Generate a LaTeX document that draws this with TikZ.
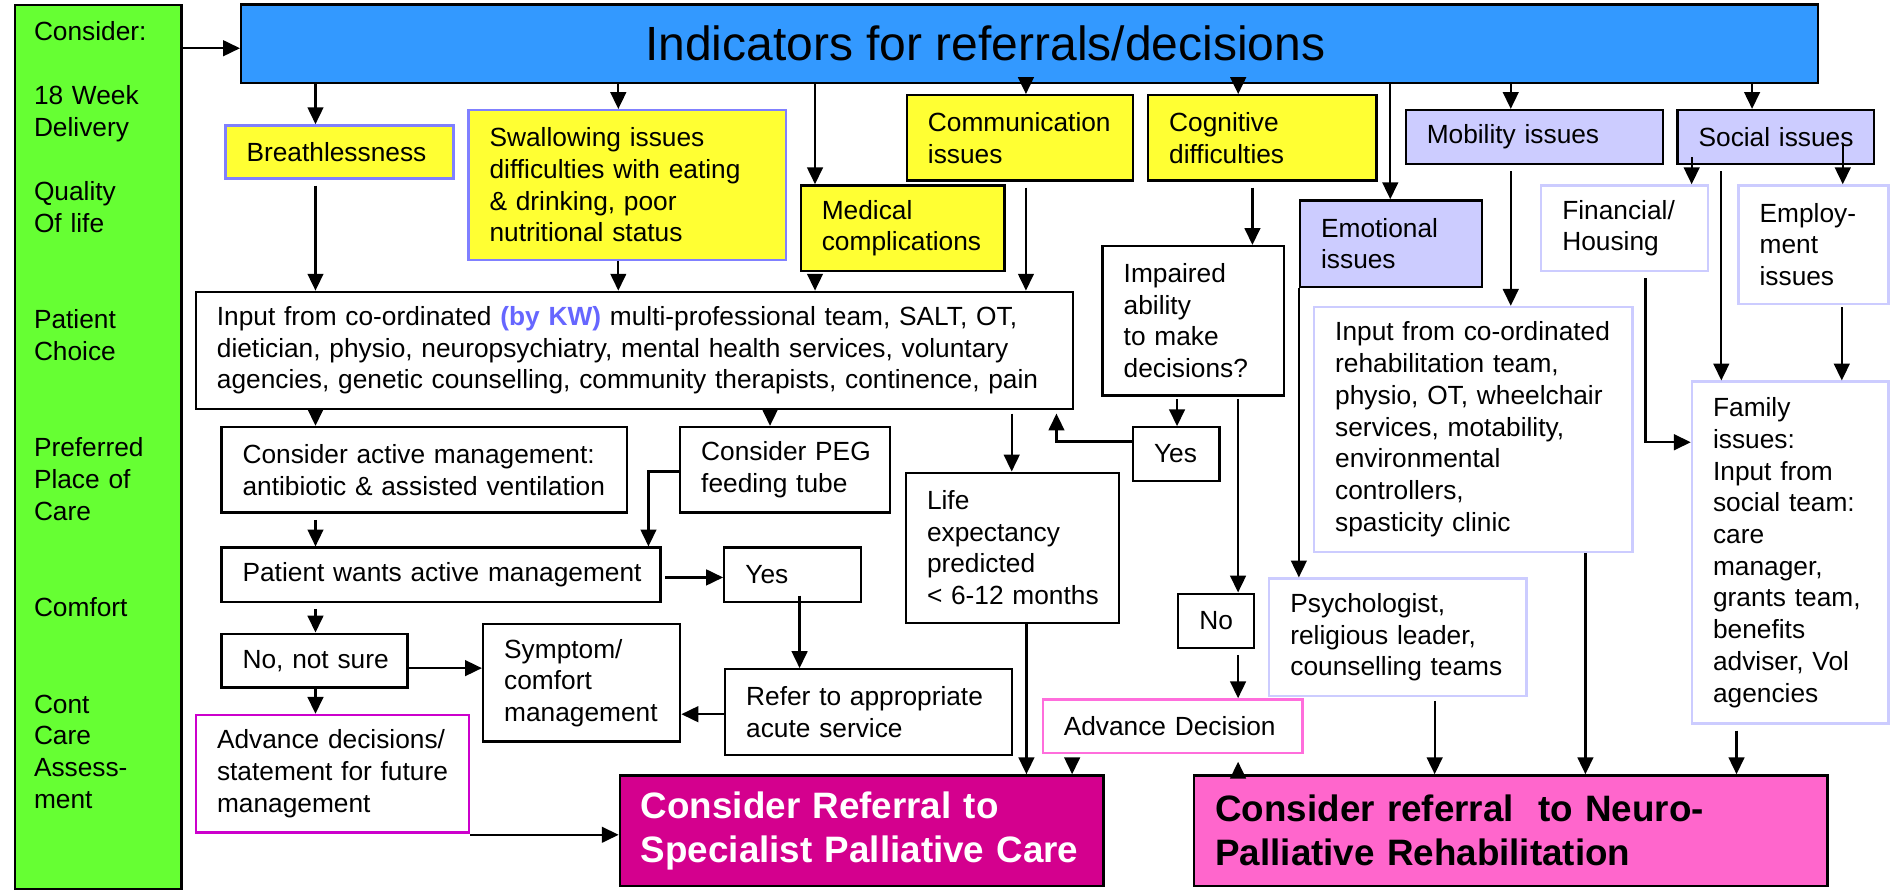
\documentclass[tikz,border=0pt]{standalone}
\usepackage{fontspec}
\setmainfont{Liberation Sans}
\usepackage{xcolor}
\usetikzlibrary{arrows.meta}

\definecolor{considergreen}{RGB}{102,255,51}
\definecolor{indblue}{RGB}{51,153,255}
\definecolor{issueyellow}{RGB}{255,255,51}
\definecolor{issuelilac}{RGB}{204,204,255}
\definecolor{edgeblue}{RGB}{128,128,255}
\definecolor{kwblue}{RGB}{102,102,255}
\definecolor{spcmagenta}{RGB}{212,0,142}
\definecolor{neuropink}{RGB}{255,102,204}
\definecolor{advmagenta}{RGB}{204,0,204}
\definecolor{advpink}{RGB}{255,110,220}

\begin{document}
\begin{tikzpicture}[
  x = 1pt, y = -1pt,
  > = {Triangle[length=14pt, width=13pt]},
  plainbox/.style = {rectangle, draw, line width=1.9pt, anchor=north west,
                     inner sep=0pt, align=left, fill=white,
                     font=\fontsize{21.8}{26.3}\selectfont,
                     execute at begin node={\leftskip=17.5pt}},
  yellowbox/.style = {plainbox, fill=issueyellow},
  lilacbox/.style  = {plainbox, fill=issuelilac},
  softbox/.style   = {plainbox, draw=issuelilac},
  sidetext/.style  = {anchor=base west, inner sep=0pt, align=left,
                      text width=120, font=\fontsize{21.8}{26.3}\selectfont},
  arr/.style = {->, line width=1.9pt},
  gap/.style = {shorten <=5pt}
]
\useasboundingbox (0,0) rectangle (1568,741);

% ───────── left column and header ─────────
\node[plainbox, fill=considergreen, text width=138, minimum height=733] (consider) at (11.5,3) {};
\node[sidetext] (considertxt) at (28,33.2)
  {Consider:\\[27pt]18 Week\\Delivery\\[27pt]Quality\\Of life\\[53.7pt]%
   Patient\\Choice\\[53.7pt]Preferred\\Place of\\Care\\[53.7pt]%
   Comfort\\[53.7pt]Cont\\Care\\Assess-\\ment};
\node[plainbox, fill=indblue, text width=1307.6, minimum height=65] (indicators) at (199,2.8) {};
\node[font=\fontsize{39.8}{47}\selectfont, anchor=base, inner sep=0pt] (title) at (817,50)
  {Indicators for referrals/decisions};

% ───────── indicator boxes ─────────
\node[yellowbox, draw=edgeblue, text width=189, minimum height=44] (breath) at (186,103) {Breathlessness};
\node[yellowbox, draw=edgeblue, text width=263, minimum height=124] (swallow) at (387.5,90.4)
  {Swallowing issues\\difficulties with eating\\\& drinking, poor\\nutritional status};
\node[yellowbox, text width=169, minimum height=71] (medical) at (663,152.8) {Medical\\complications};
\node[yellowbox, text width=187.7, minimum height=70.6] (comm) at (751,78) {Communication\\issues};
\node[yellowbox, text width=189.3, minimum height=70.6] (cognit) at (951,78) {Cognitive\\difficulties};
\node[lilacbox, text width=151, minimum height=71.6] (emot) at (1077,165.2) {Emotional\\issues};
\node[lilacbox, text width=213.4, minimum height=44.8] (mobil) at (1164.6,90.3) {Mobility issues};
\node[lilacbox, text width=163, minimum height=45] (social) at (1390,90.3) {Social issues};
\node[softbox, text width=138, minimum height=71] (fin) at (1277,152.8) {Financial/\\Housing};
\node[softbox, text width=124.4, minimum height=98.1] (employ) at (1440.6,152.8) {Employ-\\ment\\issues};

% ───────── left branch ─────────
\node[plainbox, text width=727.6, minimum height=97] (input) at (161.4,241)
  {Input from co-ordinated \textcolor{kwblue}{\bfseries(by KW)} multi-professional team, SALT, OT,\\
   dietician, physio, neuropsychiatry, mental health services, voluntary\\
   agencies, genetic counselling, community therapists, continence, pain};
\node[plainbox, text width=336.1, minimum height=71] (active) at (182.7,353.1)
  {Consider active management:\\antibiotic \& assisted ventilation};
\node[plainbox, text width=174.3, minimum height=71] (peg) at (563,353.1) {Consider PEG\\feeding tube};
\node[plainbox, text width=364.1, minimum height=44.9] (pwants) at (182.7,453.1) {Patient wants active management};
\node[plainbox, text width=113.4, minimum height=44.9] (yes1) at (599.6,453.1) {Yes};
\node[plainbox, text width=154.2, minimum height=44.7] (nonot) at (182.7,524.5) {No, not sure};
\node[plainbox, text width=163.5, minimum height=97.3] (symptom) at (399.6,516.7) {Symptom/\\comfort\\management};
\node[plainbox, text width=238.1, minimum height=71] (refer) at (600.3,554) {Refer to appropriate\\acute service};
\node[plainbox, draw=advmagenta, text width=226.2, minimum height=97.5] (advdec) at (161.5,591.9)
  {Advance decisions/\\statement for future\\management};

% ───────── middle branch ─────────
\node[plainbox, text width=176.6, minimum height=124.4] (life) at (750.2,391)
  {Life\\expectancy\\predicted\\< 6-12 months};
\node[plainbox, text width=150.5, minimum height=123.8] (impaired) at (913.3,203.1)
  {Impaired\\ability\\to make\\decisions?};
\node[plainbox, text width=71.7, minimum height=44.3] (yes2) at (938.5,353.4) {Yes};
\node[plainbox, text width=63, minimum height=44.8] (no) at (976,491.3) {No};
\node[plainbox, draw=advpink, text width=215.5, minimum height=44.7] (advdec2) at (863.6,579) {Advance Decision};

% ───────── right branch ─────────
\node[softbox, text width=264.1, minimum height=202.9] (rehab) at (1088.7,253.6)
  {Input from co-ordinated\\rehabilitation team,\\physio, OT, wheelchair\\services, motability,\\environmental\\controllers,\\spasticity clinic};
\node[softbox, text width=213.3, minimum height=97.4] (psych) at (1051.5,478.8)
  {Psychologist,\\religious leader,\\counselling teams};
\node[softbox, text width=163, minimum height=283.5] (family) at (1402,315.5)
  {Family\\issues:\\Input from\\social team:\\care\\manager,\\grants team,\\benefits\\adviser, Vol\\agencies};

% ───────── referrals ─────────
\node[plainbox, fill=spcmagenta, text=white, text width=401, minimum height=91.6,
      font=\bfseries\fontsize{30.5}{36.6}\selectfont] (spc) at (513,642)
  {Consider Referral to\\Specialist Palliative Care};
\node[plainbox, fill=neuropink, text width=525.1, minimum height=91.6,
      font=\bfseries\fontsize{30.5}{36.6}\selectfont] (neuro) at (989.3,642)
  {Consider referral~ to Neuro-\\Palliative Rehabilitation};

% ───────── arrows ──────────
\draw[arr] (consider.east |- 0,40) -- (indicators.west |- 0,40);
\draw[arr] (indicators.south -| 261.6,0) -- (breath.north -| 261.6,0);
\draw[arr] (indicators.south -| 512.7,0) -- (swallow.north -| 512.7,0);
\draw[arr] (indicators.south -| 675.8,0) -- (medical.north -| 675.8,0);
\draw[arr] (indicators.south -| 850.7,0) -- (comm.north -| 850.7,0);
\draw[arr] (indicators.south -| 1026.7,0) -- (cognit.north -| 1026.7,0);
\draw[arr] (indicators.south -| 1152.8,0) -- (emot.north -| 1152.8,0);
\draw[arr] (indicators.south -| 1252.7,0) -- (mobil.north -| 1252.7,0);
\draw[arr] (indicators.south -| 1452.8,0) -- (social.north -| 1452.8,0);

\draw[arr, gap] (breath.south -| 261.6,0) -- (input.north -| 261.6,0);
\draw[arr] (swallow.south -| 512.7,0) -- (input.north -| 512.7,0);
\draw[arr, gap] (medical.south -| 675.8,0) -- (input.north -| 675.8,0);
\draw[arr, gap] (comm.south -| 850.7,0) -- (input.north -| 850.7,0);
\draw[arr, gap] (cognit.south -| 1038.5,0) -- (impaired.north -| 1038.5,0);

\draw[arr] (input.south -| 261.6,0) -- (active.north -| 261.6,0);
\draw[arr] (input.south -| 638.5,0) -- (peg.north -| 638.5,0);
\draw[arr] (peg.west |- 0,391) -| (537.7,0 |- pwants.north);
\draw[arr, gap] (active.south -| 261.6,0) -- (pwants.north -| 261.6,0);
\draw[arr, shorten <=3pt] (pwants.east |- 0,478.8) -- (yes1.west |- 0,478.8);
\draw[arr, gap] (pwants.south -| 261.6,0) -- (nonot.north -| 261.6,0);
\draw[arr, shorten <=-6pt] (yes1.south -| 663,0) -- (refer.north -| 663,0);
\draw[arr] (nonot.east |- 0,554) -- (symptom.west |- 0,554);
\draw[arr] (refer.west |- 0,592.2) -- (symptom.east |- 0,592.2);
\draw[arr] (nonot.south -| 261.6,0) -- (advdec.north -| 261.6,0);
\draw[arr] (advdec.east |- 0,692.2) -- (spc.west |- 0,692.2);

\draw[arr, shorten <=3pt] (input.south -| 838.9,0) -- (life.north -| 838.9,0);
\draw[arr, shorten >=3pt] (yes2.west |- 0,366.1) -| (876,0 |- input.south);
\draw[arr, shorten <=2pt] (impaired.south -| 976,0) -- (yes2.north -| 976,0);
\draw[arr, shorten <=2pt] (impaired.south -| 1026.6,0) -- (no.north -| 1026.6,0);
\draw[arr, gap] (no.south -| 1026.6,0) -- (advdec2.north -| 1026.6,0);
\draw[arr] (life.south -| 851.1,0) -- (spc.north -| 851.1,0);
\draw[arr, gap] (advdec2.south -| 889,0) -- (spc.north -| 889,0);
\draw[arr, shorten >=6pt] (neuro.north -| 1026.6,0) -- (advdec2.south -| 1026.6,0);

\draw[arr] (emot.south west) -- (psych.north -| emot.south west);
\draw[arr, gap] (mobil.south -| 1252.7,0) -- (rehab.north -| 1252.7,0);
\draw[arr, shorten <=-7pt] (social.south -| 1402.7,0) -- (fin.north -| 1402.7,0);
\draw[arr, shorten <=-19pt] (social.south -| 1528,0) -- (employ.north -| 1528,0);
\draw[arr, gap] (social.south -| 1427.3,0) -- (family.north -| 1427.3,0);
\draw[arr, gap] (fin.south -| 1364.5,0) |- (family.west |- 0,366.7);
\draw[arr, shorten <=2pt] (employ.south -| 1527.2,0) -- (family.north -| 1527.2,0);
\draw[arr] (rehab.south -| 1314.6,0) -- (neuro.north -| 1314.6,0);
\draw[arr, shorten <=3pt] (psych.south -| 1189.6,0) -- (neuro.north -| 1189.6,0);
\draw[arr, gap] (family.south -| 1439.9,0) -- (neuro.north -| 1439.9,0);
\end{tikzpicture}
\end{document}
